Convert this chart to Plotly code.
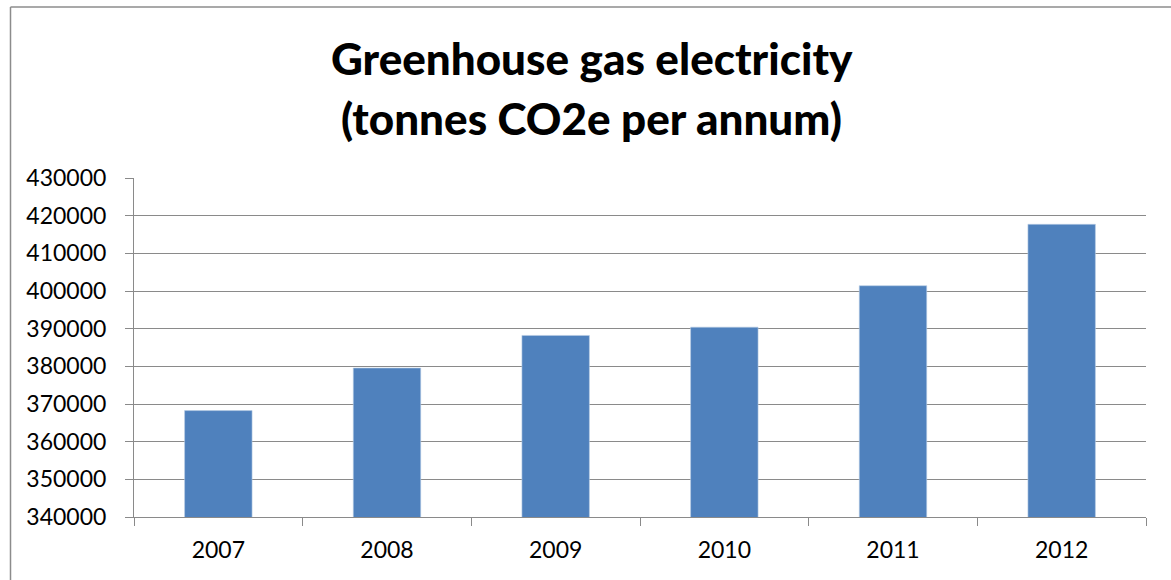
import plotly.graph_objects as go

# Annual greenhouse gas emissions from electricity use
years = ["2007", "2008", "2009", "2010", "2011", "2012"]
tonnes_co2e = [368250, 379550, 388200, 390400, 401400, 417700]

y_min, y_max, y_step = 340000, 430000, 10000

W, H = 1171, 580
M_L, M_R, M_T, M_B = 134, 25, 178, 63
plot_w = W - M_L - M_R
plot_h = H - M_T - M_B

GRID = "#8a8a8a"
BAR = "#4F81BD"
FONT = "Lato"
TICK_SIZE = 23


def px_to_paper_x(px):
    return (px - M_L) / plot_w


def px_to_paper_y(py):
    return 1 + (M_T - py) / plot_h


fig = go.Figure(
    go.Bar(
        x=years,
        y=tonnes_co2e,
        marker=dict(color=BAR, line=dict(color="#b8cce4", width=0.6)),
        width=0.4,
        hoverinfo="x+y",
    )
)

fig.update_layout(
    width=W,
    height=H,
    margin=dict(l=M_L, r=M_R, t=M_T, b=M_B),
    paper_bgcolor="white",
    plot_bgcolor="white",
    showlegend=False,
    font=dict(family=FONT, color="#000000", size=TICK_SIZE),
)

fig.update_xaxes(
    type="category",
    tickson="boundaries",
    ticks="outside",
    ticklen=8,
    tickwidth=1,
    tickcolor=GRID,
    showline=True,
    linecolor=GRID,
    linewidth=1,
    showgrid=False,
    ticklabelstandoff=12,
    tickfont=dict(family=FONT, size=TICK_SIZE, color="#000000"),
)

fig.update_yaxes(
    range=[y_min, y_max],
    dtick=y_step,
    tick0=y_min,
    tickformat="d",
    ticks="outside",
    ticklen=8,
    tickwidth=1,
    tickcolor=GRID,
    showline=True,
    linecolor=GRID,
    linewidth=1,
    showgrid=True,
    gridcolor=GRID,
    gridwidth=1,
    zeroline=False,
    ticklabelstandoff=14,
    tickfont=dict(family=FONT, size=TICK_SIZE, color="#000000"),
)

# Chart title, two lines with generous spacing
title_lines = ["Greenhouse gas electricity", "(tonnes CO2e per annum)"]
title_centers_px = [58, 118]
for line, cy in zip(title_lines, title_centers_px):
    fig.add_annotation(
        text=line,
        xref="paper",
        yref="paper",
        x=px_to_paper_x(591.5),
        y=px_to_paper_y(cy),
        xanchor="center",
        yanchor="middle",
        showarrow=False,
        font=dict(family=FONT, size=44, color="#000000", weight=900),
    )

# Outer chart frame (left and top edges)
frame_left = px_to_paper_x(10.5)
frame_top = px_to_paper_y(7)
fig.add_shape(type="line", xref="paper", yref="paper",
              x0=frame_left, x1=frame_left, y0=px_to_paper_y(H + 5), y1=frame_top,
              line=dict(color="#8c8c8c", width=1.5))
fig.add_shape(type="line", xref="paper", yref="paper",
              x0=frame_left, x1=px_to_paper_x(W + 5), y0=frame_top, y1=frame_top,
              line=dict(color="#8c8c8c", width=1.5))

fig.write_html("out.html")
